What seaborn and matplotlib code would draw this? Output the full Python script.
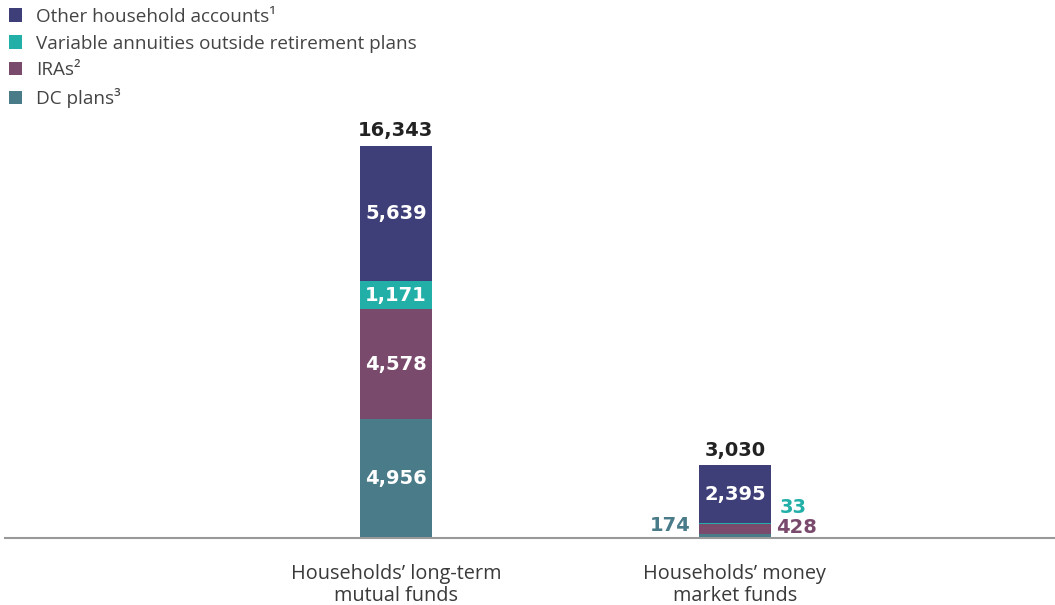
import numpy as np
import pandas as pd
import matplotlib
matplotlib.use("Agg")
import matplotlib.pyplot as plt
from matplotlib.patches import Patch
import seaborn as sns

# Household assets, billions of dollars
categories = ["Households\u2019 long-term\nmutual funds", "Households\u2019 money\nmarket funds"]
series_names = ["DC plans\u00b3", "IRAs\u00b2",
                "Variable annuities outside retirement plans",
                "Other household accounts\u00b9"]
dc_plans = [4956, 174]
iras = [4578, 428]
variable_annuities = [1171, 33]
other_accounts = [5639, 2395]
totals = [16343, 3030]

colors = ["#497b89", "#7a4a6d", "#22afa8", "#3e3f79"]

sns.set_theme(style="white")
plt.rcParams["font.family"] = ["Open Sans", "DejaVu Sans"]

layers = np.array([dc_plans, iras, variable_annuities, other_accounts], dtype=float)
cum = np.cumsum(layers, axis=0)

fig = plt.figure(figsize=(10.55, 6.05), dpi=100)
ax = fig.add_axes([5 / 1055, (605 - 538) / 605, 1050 / 1055, 538 / 605])

# stacked bars: draw cumulative heights from the top segment down
for i in range(len(series_names) - 1, -1, -1):
    df = pd.DataFrame({"cat": categories, "val": cum[i]})
    sns.barplot(data=df, x="cat", y="val", color=colors[i], width=0.2124,
                saturation=1, ax=ax, linewidth=0, order=categories)

ax.set_xlim(-1.153, 1.944)
ax.set_ylim(0, 538 / (392 / 16343))
ax.set_xlabel("")
ax.set_ylabel("")
ax.set_yticks([])
ax.tick_params(axis="x", length=0, pad=19, labelsize=14.3, labelcolor="#3a3a3a")
for lab in ax.get_xticklabels():
    lab.set_linespacing(1.1)
for s in ["top", "right", "left"]:
    ax.spines[s].set_visible(False)
ax.spines["bottom"].set_color("#999999")
ax.spines["bottom"].set_linewidth(1.5)

vfont = dict(family="DejaVu Sans", fontsize=14, fontweight="bold")
# totals above bars
for x, t in enumerate(totals):
    ax.annotate(f"{t:,}", (x, t), xytext=(0, 4), textcoords="offset points",
                ha="center", va="bottom", color="#222222", **vfont)

# segment labels inside the tall bar
for i in range(len(series_names)):
    v = layers[i, 0]
    ax.text(0, cum[i, 0] - v / 2, f"{int(v):,}", ha="center", va="center",
            color="white", **vfont)

# money market bar: large segment inside, small ones outside
v = layers[3, 1]
ax.text(1, cum[3, 1] - v / 2, f"{int(v):,}", ha="center", va="center",
        color="white", **vfont)
half = 0.2124 / 2
ax.annotate(f"{dc_plans[1]:,}", (1 - half, 0), xytext=(-6, 2),
            textcoords="offset points", ha="right", va="bottom",
            color=colors[0], **vfont)
ax.annotate(f"{iras[1]:,}", (1 + half, 0), xytext=(4, 1),
            textcoords="offset points", ha="left", va="bottom",
            color=colors[1], **vfont)
ax.annotate(f"{variable_annuities[1]:,}", (1 + half, 0), xytext=(6, 15),
            textcoords="offset points", ha="left", va="bottom",
            color=colors[2], **vfont)

# legend, top series first
handles = [Patch(facecolor=colors[i], edgecolor="none") for i in range(3, -1, -1)]
labels = [series_names[i] for i in range(3, -1, -1)]
fig.legend(handles, labels, loc="upper left", bbox_to_anchor=(-0.002, 1.006),
           frameon=False, fontsize=13.6, handlelength=0.7, handleheight=0.7,
           handletextpad=0.7, labelspacing=0.47, borderaxespad=0.2,
           labelcolor="#444444")

fig.savefig("out.png", dpi=100)
